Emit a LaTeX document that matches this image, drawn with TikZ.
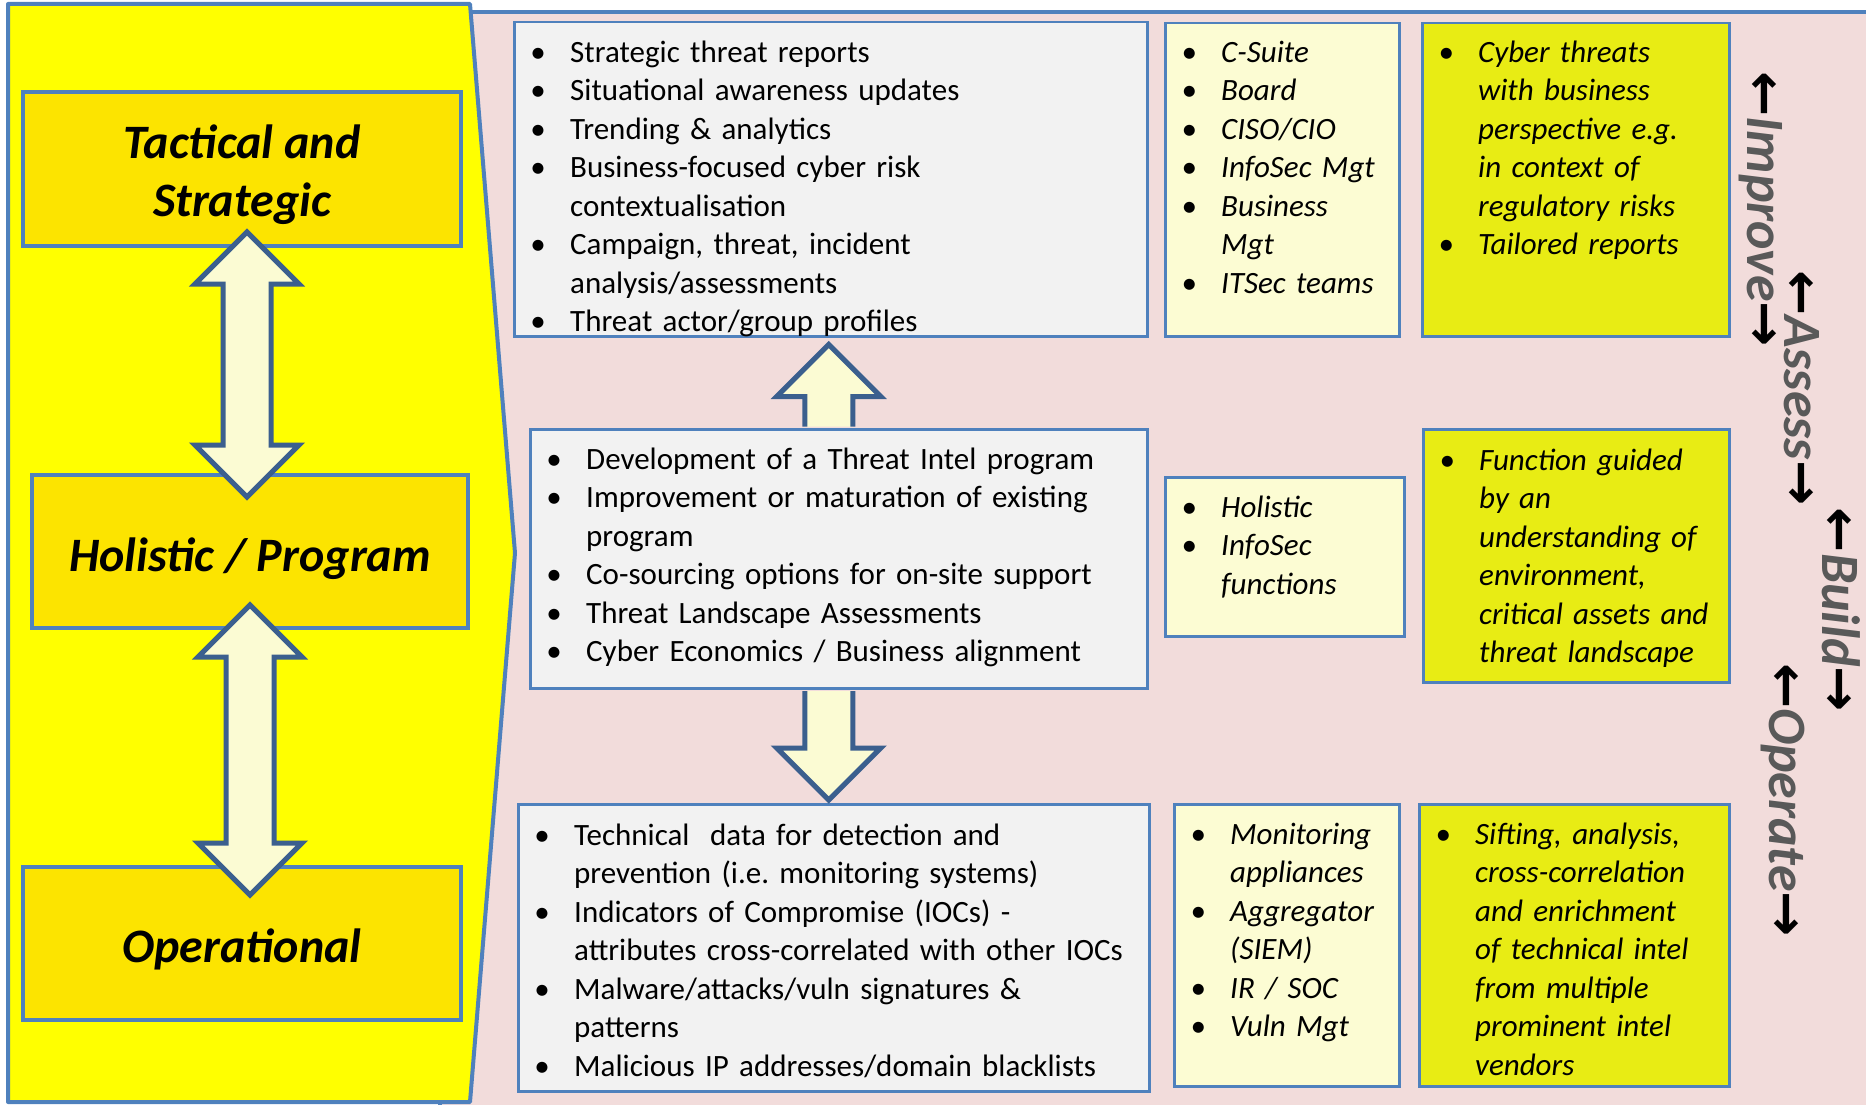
\documentclass[tikz,border=0pt]{standalone}
\usepackage{fontspec}
\usepackage{enumitem}
\setmainfont{Carlito}
\newfontfamily\arrowfont{DejaVu Sans}
\usetikzlibrary{calc}
\frenchspacing
\definecolor{panelyellow}{HTML}{FFFF00}
\definecolor{levelgold}{HTML}{FCE400}
\definecolor{boxblue}{HTML}{4F81BD}
\definecolor{arrowblue}{HTML}{3B5F8E}
\definecolor{arrowcream}{HTML}{FBFBD3}
\definecolor{bgpink}{HTML}{F2DCDB}
\definecolor{listgray}{HTML}{F2F2F2}
\definecolor{audcream}{HTML}{FCFCD3}
\definecolor{outlime}{HTML}{E8EC14}
\definecolor{phasegray}{HTML}{595959}

\newcommand{\blist}[1]{\begin{itemize}[leftmargin=57pt,labelsep=32pt,labelwidth=0pt,align=left,
  label={\makebox[0pt]{\textbullet}\strut},topsep=0pt,partopsep=0pt,parsep=0pt,itemsep=0pt]#1\end{itemize}}
\newcommand{\fatboth}[2]{\filldraw[fatarrow] (#1) -- ++(52,52) -- ++(-28,0) -- ($(#2)+(24,-52)$)
  -- ++(28,0) -- (#2) -- ++(-52,-52) -- ++(28,0) -- ($(#1)+(-24,52)$) -- ++(-28,0) -- cycle;}
\newcommand{\phasetext}[1]{{\arrowfont\color{black}←}#1{\arrowfont\color{black}→}}

\begin{document}
\begin{tikzpicture}[x=1pt,y=-1pt,
  level/.style={draw=boxblue,line width=4,fill=levelgold,minimum width=438,minimum height=154,
    align=center,inner sep=0,font=\fontsize{48}{58}\selectfont\bfseries\itshape},
  infobox/.style={draw=boxblue,line width=2.5,anchor=north west,inner sep=0},
  listtxt/.style={anchor=north west,inner sep=0,text width=#1,align=left,
    font=\fontsize{31}{38.5}\selectfont},
  fatarrow/.style={draw=arrowblue,fill=arrowcream,line width=5},
  phase/.style={rotate=-90,text=phasegray,inner sep=0,font=\fontsize{54}{60}\selectfont\bfseries\itshape}]
\useasboundingbox (0,0) rectangle (1866,1105);
\clip (0,0) rectangle (1866,1105);
\filldraw[fill=bgpink,draw=boxblue,line width=4] (440,12) rectangle (1890,1130);
\filldraw[fill=panelyellow,draw=boxblue,line width=4,line join=round]
  (8,4) -- (470,4) -- (515,553) -- (470,1102) -- (8,1102) -- cycle;

\node[level] (tac) at (242,169) {\rule{0pt}{46pt}Tactical and\\Strategic};
\node[level,minimum width=436,minimum height=153] (hol) at (250,551.5) {\rule{0pt}{48pt}Holistic / Program};
\node[level,minimum height=153] (op) at (242,943.5) {\rule{0pt}{45pt}Operational};
\coordinate (t1) at ($(tac.south)+(5,-16)$);
\coordinate (b1) at ($(hol.north)+(-3,24)$);
\coordinate (t2) at ($(hol.south)+(0,-25)$);
\coordinate (b2) at ($(op.north)+(8,30)$);
\fatboth{t1}{b1}
\fatboth{t2}{b2}

\node[infobox,fill=listgray,minimum width=633,minimum height=314] (strat) at (513,21) {};
\node[listtxt=680] (strat-l) at ($(strat.north west)+(0,2.5)$) {\blist{
  \item Strategic threat reports
  \item Situational awareness updates
  \item Trending \& analytics
  \item Business-focused cyber risk\newline contextualisation
  \item Campaign, threat, incident\newline analysis/assessments
  \item Threat actor/group profiles}};
\node[infobox,fill=listgray,minimum width=617,minimum height=259] (prog) at (529,428) {};
\node[listtxt=660] (prog-l) at ($(prog.north west)+(0,2.5)$) {\blist{
  \item Development of a Threat Intel program
  \item Improvement or maturation of existing\newline program
  \item Co-sourcing options for on-site support
  \item Threat Landscape Assessments
  \item Cyber Economics / Business alignment}};
\node[infobox,fill=listgray,minimum width=631,minimum height=287] (tech) at (517,803) {};
\node[listtxt=680] (tech-l) at ($(tech.north west)+(0,3.5)$) {\blist{
  \item Technical~ data for detection and\newline prevention (i.e. monitoring systems)
  \item Indicators of Compromise (IOCs) -\newline attributes cross-correlated with other IOCs
  \item Malware/attacks/vuln signatures \&\newline patterns
  \item Malicious IP addresses/domain blacklists}};

\coordinate (u1) at ($(strat.south)+(-2,7)$);
\filldraw[fatarrow] ($(u1|-prog.north)+(-24,-1.5)$) -- ($(u1)+(-24,52)$) -- ++(-28,0) -- (u1)
  -- ++(52,52) -- ++(-28,0) -- ($(u1|-prog.north)+(24,-1.5)$);
\coordinate (d1) at ($(tech.north)+(-5,-3)$);
\filldraw[fatarrow] ($(d1|-prog.south)+(-24,1.5)$) -- ($(d1)+(-24,-52)$) -- ++(-28,0) -- (d1)
  -- ++(52,-52) -- ++(-28,0) -- ($(d1|-prog.south)+(24,1.5)$);

\node[infobox,fill=audcream,minimum width=234,minimum height=313] (aud1) at (1164,22) {};
\node[listtxt=280,font=\fontsize{31}{38.5}\selectfont\itshape] (aud1-l) at ($(aud1.north west)+(0,1.5)$) {\blist{
  \item C-Suite
  \item Board
  \item CISO/CIO
  \item InfoSec Mgt
  \item Business\newline Mgt
  \item ITSec teams}};
\node[infobox,fill=audcream,minimum width=239,minimum height=159] (aud2) at (1164,476) {};
\node[listtxt=280,font=\fontsize{31}{38.5}\selectfont\itshape] (aud2-l) at ($(aud2.north west)+(0,2.5)$) {\blist{
  \item Holistic
  \item InfoSec\newline functions}};
\node[infobox,fill=audcream,minimum width=225,minimum height=282] (aud3) at (1173,803) {};
\node[listtxt=280,font=\fontsize{31}{38.5}\selectfont\itshape] (aud3-l) at ($(aud3.north west)+(0,2.5)$) {\blist{
  \item Monitoring\newline appliances
  \item Aggregator\newline (SIEM)
  \item IR / SOC
  \item Vuln Mgt}};

\node[infobox,fill=outlime,minimum width=307,minimum height=313] (out1) at (1421,22) {};
\node[listtxt=350,font=\fontsize{31}{38.5}\selectfont\itshape] (out1-l) at ($(out1.north west)+(0,1.5)$) {\blist{
  \item Cyber threats\newline with business\newline perspective e.g.\newline in context of\newline regulatory risks
  \item Tailored reports}};
\node[infobox,fill=outlime,minimum width=306,minimum height=253] (out2) at (1422,428) {};
\node[listtxt=350,font=\fontsize{31}{38.5}\selectfont\itshape] (out2-l) at ($(out2.north west)+(0,3.5)$) {\blist{
  \item Function guided\newline by an\newline understanding of\newline environment,\newline critical assets and\newline threat landscape}};
\node[infobox,fill=outlime,minimum width=310,minimum height=282] (out3) at (1418,803) {};
\node[listtxt=350,font=\fontsize{31}{38.5}\selectfont\itshape] (out3-l) at ($(out3.north west)+(0,2.5)$) {\blist{
  \item Sifting, analysis,\newline cross-correlation\newline and enrichment\newline of technical intel\newline from multiple\newline prominent intel\newline vendors}};

\node[phase] (improve) at (1761,209) {\phasetext{Improve}};
\node[phase] (assess) at (1802,388) {\phasetext{Assess}};
\node[phase] (build) at (1841,610) {\phasetext{Build}};
\node[phase] (operate) at (1783,800) {\phasetext{Operate}};
\end{tikzpicture}
\end{document}
